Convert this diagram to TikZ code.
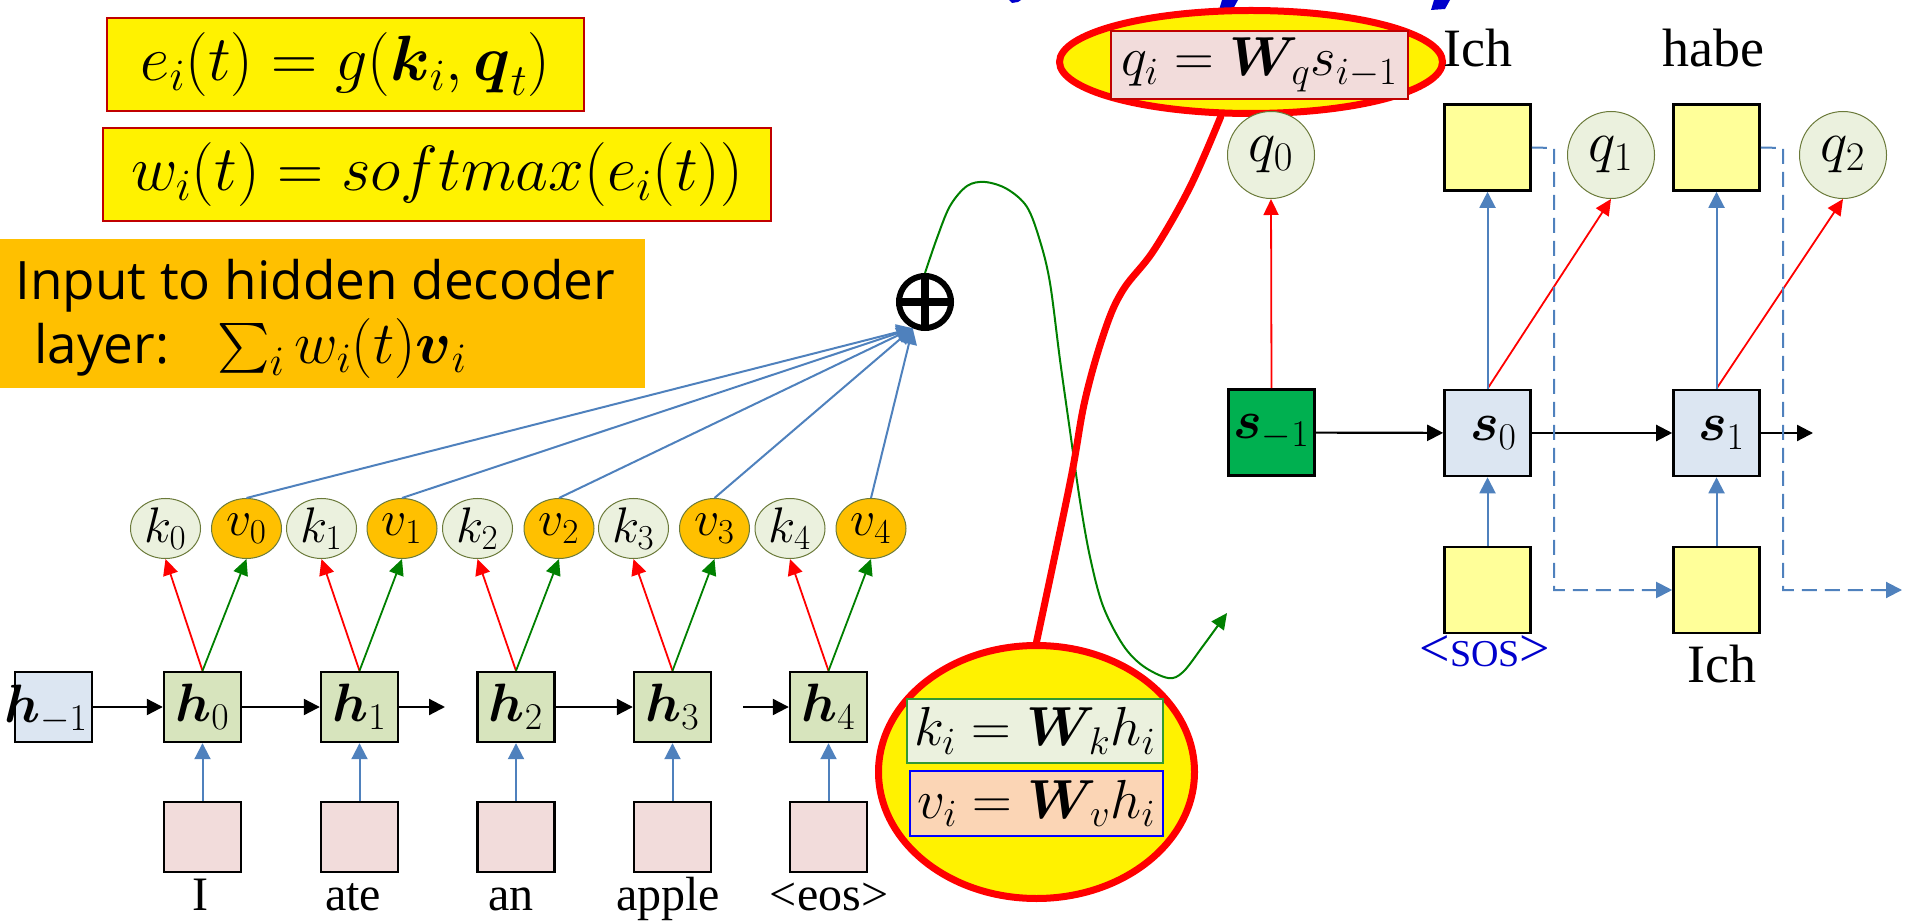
\RequirePackage{fix-cm}
\documentclass[tikz,border=0pt]{standalone}
\usepackage{amsmath}
\usepackage[no-math]{fontspec}
\setmainfont{Liberation Serif}
\newfontfamily\handfont{Open Sans}
\usetikzlibrary{arrows.meta,shapes.geometric}
\definecolor{myblue}{HTML}{4F81BD}
\definecolor{hgreen}{HTML}{D7E4BD}
\definecolor{lblue}{HTML}{DCE6F2}
\definecolor{pinkc}{HTML}{F2DCDB}
\definecolor{kfill}{HTML}{EBF1DE}
\definecolor{vfill}{HTML}{FFC000}
\definecolor{olivec}{HTML}{6B7A3A}
\definecolor{sgreen}{HTML}{00B050}
\definecolor{lyellow}{HTML}{FFFF99}
\definecolor{peach}{HTML}{FBD5B5}
\definecolor{darkredc}{HTML}{C00000}
\definecolor{titleblue}{HTML}{0000CC}
\definecolor{dgreen}{HTML}{008000}
\definecolor{kgreen}{HTML}{339933}
\begin{document}
\begin{tikzpicture}[x=0.5pt,y=-0.5pt,
  fbox/.style={draw=darkredc,line width=1pt,fill=yellow,inner sep=0pt,font=\fontsize{32}{36}\selectfont},
  hbox/.style={draw=black,line width=1.2pt,fill=hgreen,minimum width=38.5pt,minimum height=35pt,inner sep=0pt,font=\fontsize{27}{30}\selectfont},
  lbbox/.style={hbox,fill=lblue},
  xbox/.style={hbox,fill=pinkc},
  kell/.style={ellipse,draw=olivec,line width=0.5pt,fill=kfill,minimum width=35pt,minimum height=30pt,inner sep=0pt,font=\fontsize{25}{28}\selectfont},
  vell/.style={kell,fill=vfill},
  wlab/.style={anchor=base,inner sep=0pt,font=\fontsize{24}{26}\selectfont},
  dlab/.style={anchor=base,inner sep=0pt,font=\fontsize{27}{30}\selectfont},
  sbox/.style={draw=black,line width=1.3pt,fill=lblue,minimum width=43pt,minimum height=43pt,inner sep=0pt,font=\fontsize{27}{30}\selectfont},
  ybox/.style={sbox,fill=lyellow},
  qcirc/.style={ellipse,draw=olivec,line width=0.5pt,fill=kfill,minimum width=43.5pt,minimum height=43.5pt,inner sep=0pt,font=\fontsize{29}{32}\selectfont},
  blk/.style={-{Triangle[length=8pt,width=8pt]},line width=1.1pt,black},
  redarr/.style={-{Triangle[length=8pt,width=7.5pt]},line width=0.9pt,red},
  grnarr/.style={-{Triangle[length=8pt,width=7.5pt]},line width=0.9pt,dgreen},
  bluarr/.style={-{Triangle[length=8pt,width=8pt]},line width=1pt,myblue},
  dasharr/.style={bluarr,dash pattern=on 7.5pt off 4pt},
  bigell/.style={ellipse,draw=red,line width=3.5pt,fill=yellow,inner sep=0pt},
  formula/.style={inner sep=0pt,font=\fontsize{27.5}{30}\selectfont}
]
\useasboundingbox (0,0) rectangle (1910,924);

% title fragments cut at the top edge
\fill[titleblue] (1009,0) -- (1021,0) -- (1018,2) -- (1012,3) -- cycle;
\fill[titleblue] (1222,0) -- (1238,0) -- (1233,9) -- (1219,10) -- cycle;
\fill[titleblue] (1434,0) -- (1450,0) -- (1445,9) -- (1431,10) -- cycle;

% top-left formulas
\node[fbox,minimum width=238.5pt,minimum height=46.5pt] (ebox) at (345.5,64.5) {$e_i(t) = g(\boldsymbol{k}_i, \boldsymbol{q}_t)$};
\node[fbox,minimum width=334pt,minimum height=46.5pt] (wbox) at (437,174.5) {$w_i(t) = softmax(e_i(t))$};

% orange box
\fill[vfill] (0,239) rectangle (645,388);
\node[anchor=base west,inner sep=0pt,font=\handfont\fontsize{26.5}{31}\selectfont] (inp) at (15,300)
  {\begin{tabular}[t]{@{}l@{}}Input to hidden decoder\\
   \makebox[101pt][l]{\hspace*{9.5pt}layer:}{\fontsize{30}{31}\selectfont$\textstyle\sum_i w_i(t)\boldsymbol{v}_i$}\end{tabular}};

% encoder
\node[lbbox] (hm1) at (53.5,707) {};
\node[inner sep=0pt,font=\fontsize{27}{30}\selectfont] (hm1t) at (46,709) {$\boldsymbol{h}_{-1}$};
\node[hbox] (h0) at (202.5,707) {$\boldsymbol{h}_0$};
\node[hbox] (h1) at (359.5,707) {$\boldsymbol{h}_1$};
\node[hbox] (h2) at (516,707) {$\boldsymbol{h}_2$};
\node[hbox] (h3) at (672.5,707) {$\boldsymbol{h}_3$};
\node[hbox] (h4) at (828.5,707) {$\boldsymbol{h}_4$};

\node[xbox] (x0) at (202.5,837) {};
\node[xbox] (x1) at (359.5,837) {};
\node[xbox] (x2) at (516,837) {};
\node[xbox] (x3) at (672.5,837) {};
\node[xbox] (x4) at (828.5,837) {};

\node[wlab] (w0) at (200,910) {I};
\node[wlab] (w1) at (353,910) {ate};
\node[wlab] (w2) at (511,910) {an};
\node[wlab] (w3) at (668,910) {apple};
\node[wlab] (w4) at (829,910) {<eos>};

\node[kell] (k0) at (165.5,528.5) {$k_0$};
\node[vell] (v0) at (246.5,528.5) {$v_0$};
\node[kell] (k1) at (321.5,528.5) {$k_1$};
\node[vell] (v1) at (402,528.5) {$v_1$};
\node[kell] (k2) at (477.5,528.5) {$k_2$};
\node[vell] (v2) at (559,528.5) {$v_2$};
\node[kell] (k3) at (633.5,528.5) {$k_3$};
\node[vell] (v3) at (714.5,528.5) {$v_3$};
\node[kell] (k4) at (790,528.5) {$k_4$};
\node[vell] (v4) at (871,528.5) {$v_4$};

\coordinate (h1end) at (445,707);
\coordinate (h4start) at (743,707);
\draw[blk] (hm1) -- (h0);
\draw[blk] (h0) -- (h1);
\draw[blk] (h1) -- (h1end);
\draw[blk] (h2) -- (h3);
\draw[blk] (h4start) -- (h4);

\foreach \i in {0,...,4}{
  \draw[bluarr] (x\i) -- (h\i);
  \draw[redarr] (h\i.north) -- (k\i.south);
  \draw[grnarr] (h\i.north) -- (v\i.south);
}

% sum node
\node[circle,draw=black,line width=3pt,minimum size=26pt,inner sep=0pt] (oplus) at (925,302) {};
\draw[line width=4pt] (oplus.north) -- (oplus.south) (oplus.west) -- (oplus.east);
\foreach \i in {0,...,4}{
  \draw[bluarr] (v\i.north) -- (oplus.245);
}

% key/value formula ellipse
\node[bigell,minimum width=158pt,minimum height=126.5pt] (kvell) at (1036.5,772) {};
\node[draw=kgreen,line width=1pt,fill=kfill,minimum width=128pt,minimum height=32pt,formula] (kbox) at (1035,731) {$k_i = \boldsymbol{W}_{\!k} h_i$};
\node[draw=blue,line width=1pt,fill=peach,minimum width=126.5pt,minimum height=32.5pt,formula] (vbox) at (1036.5,803.5) {$v_i = \boldsymbol{W}_{\!v} h_i$};

% query formula ellipse
\node[bigell,minimum width=191.5pt,minimum height=51.5pt] (qell) at (1251,62) {};
\node[draw=darkredc,line width=1pt,fill=pinkc,minimum width=148.5pt,minimum height=34pt,formula] (qbox) at (1259.5,65) {$q_i = \boldsymbol{W}_{\!q} s_{i-1}$};

% green curve from the sum
\coordinate (gtip) at (1227,613);
\draw[grnarr,line width=1pt] plot[smooth,tension=0.55] coordinates {(oplus.north) (937,238) (950,206) (967,186) (985,182) (1007,189) (1027,207) (1040,241) (1050,283) (1060,360) (1070,431) (1080,501) (1090,557) (1103,606) (1123,645) (1143,666) (1168,678) (1183,672) (1203,646) (gtip)};

% decoder
\node[qcirc] (q0) at (1271,155) {$q_0$};
\node[qcirc] (q1) at (1611,155) {$q_1$};
\node[qcirc] (q2) at (1843,155) {$q_2$};

\node[sbox,fill=sgreen] (sm1) at (1271.5,432.5) {$\boldsymbol{s}_{-1}$};
\node[sbox] (s0) at (1487.5,433) {\hspace*{6pt}$\boldsymbol{s}_0$};
\node[sbox] (s1) at (1716.5,433) {\hspace*{5pt}$\boldsymbol{s}_1$};

\node[ybox] (o0) at (1487.5,147.5) {};
\node[ybox] (o1) at (1716.5,147.5) {};
\node[ybox] (i0) at (1487.5,590) {};
\node[ybox] (i1) at (1716.5,590) {};

\node[dlab] (l0) at (1478,67) {Ich};
\node[dlab] (l1) at (1713,67) {habe};
\node[dlab] (l2) at (1722,682) {Ich};
\node[anchor=base,inner sep=0pt,text=titleblue] (sos) at (1485,666) {{\fontsize{27}{27}\selectfont <}{\fontsize{19}{20}\selectfont SOS}{\fontsize{27}{27}\selectfont >}};

\coordinate (s1end) at (1813,433);
\draw[blk] (sm1) -- (s0);
\draw[blk] (s0) -- (s1);
\draw[blk] (s1) -- (s1end);

\draw[redarr] (sm1.north) -- (q0.south);
\draw[redarr] (s0.north) -- (q1.south);
\draw[redarr] (s1.north) -- (q2.south);
\draw[bluarr] (s0) -- (o0);
\draw[bluarr] (s1) -- (o1);
\draw[bluarr] (i0) -- (s0);
\draw[bluarr] (i1) -- (s1);

\coordinate (d0a) at (1554,148);
\coordinate (d0b) at (1554,590);
\coordinate (d1a) at (1783,148);
\coordinate (d1b) at (1783,590);
\coordinate (d1end) at (1902,590);
\draw[dasharr] (o0.east) -- (d0a) -- (d0b) -- (i1.west);
\draw[dasharr] (o1.east) -- (d1a) -- (d1b) -- (d1end);

% red connector between the two formula ellipses
\draw[red,line width=3.5pt,line join=round,line cap=round] plot[smooth,tension=0.6] coordinates {(qell.241) (1190,187) (1154,250) (1123,290) (1105,330) (1085,400) (1070,483) (kvell.north)};
\end{tikzpicture}
\end{document}
